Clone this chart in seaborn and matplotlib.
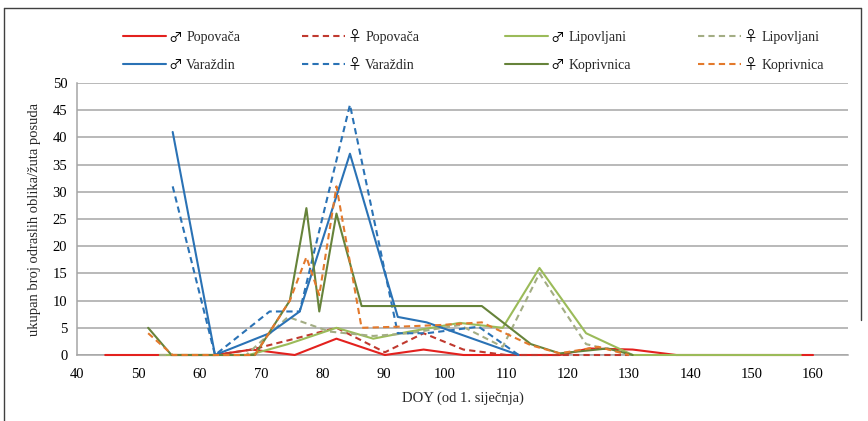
import matplotlib
matplotlib.use("Agg")
import matplotlib.pyplot as plt
from matplotlib.lines import Line2D
import seaborn as sns
import pandas as pd

# ---------------- data ----------------
pop_m_doy = [44.6, 53.5, 62.5, 68.5, 75.5, 82.3, 90.2, 96.5, 103, 110, 118.7, 123.5, 130.6, 137.7, 160]
pop_m_val = [0, 0, 0, 1, 0, 3, 0, 1, 0, 0, 0, 1.2, 1, 0, 0]

pop_f_doy = [62.5, 68.5, 75.5, 82.3, 90.2, 96.5, 103, 110, 118.7, 130]
pop_f_val = [0, 1, 3, 5, 0.5, 4, 1, 0, 0, 0]

lip_m_doy = [53.5, 62.5, 68, 74.4, 82.3, 88.3, 94.2, 102.4, 109.4, 115.4, 123, 130.6, 138, 158]
lip_m_val = [0, 0, 0, 2, 5, 3, 4.3, 5.9, 5, 16, 4, 0, 0, 0]

lip_f_doy = [53.5, 62.5, 67.6, 74.4, 81.2, 88.3, 94.2, 102.4, 109.4, 115.4, 123, 130.6]
lip_f_val = [0, 0, 0, 7, 4.3, 3.5, 4, 5.5, 1.5, 15, 2, 0]

var_m_doy = [55.6, 62.5, 71.4, 76.3, 84.5, 92.3, 97, 112]
var_m_val = [41, 0, 4, 8, 37, 7, 6, 0]

var_f_doy = [55.6, 62.5, 71.4, 76.3, 84.5, 92.3, 97, 105.5, 112]
var_f_val = [31, 0, 8, 8, 46, 4, 4, 5.2, 0]

kop_m_doy = [51.6, 55.4, 62.5, 69, 74.7, 77.4, 79.5, 82.3, 86.4, 106, 114, 118.7, 126.5, 130.6]
kop_m_val = [5, 0, 0, 0, 10, 27, 8, 26, 9, 9, 2, 0.3, 1.2, 0]

kop_f_doy = [51.6, 55.6, 62.5, 69, 74.7, 77.4, 79.5, 82.3, 86.4, 92.3, 99, 106, 114, 118.7, 125, 130]
kop_f_val = [4, 0, 0, 0, 10, 18, 11, 31, 5, 5.2, 5.5, 6, 1.8, 0.3, 1.5, 0]

MALE, FEMALE = "\u2642", "\u2640"
series = [
    (MALE, "Popova\u010da", pop_m_doy, pop_m_val, "#E3211E", "-"),
    (FEMALE, "Popova\u010da", pop_f_doy, pop_f_val, "#C0392F", "--"),
    (MALE, "Lipovljani", lip_m_doy, lip_m_val, "#9BBB59", "-"),
    (FEMALE, "Lipovljani", lip_f_doy, lip_f_val, "#A3AD84", "--"),
    (MALE, "Vara\u017edin", var_m_doy, var_m_val, "#2A72B5", "-"),
    (FEMALE, "Vara\u017edin", var_f_doy, var_f_val, "#2A72B5", "--"),
    (MALE, "Koprivnica", kop_m_doy, kop_m_val, "#66833A", "-"),
    (FEMALE, "Koprivnica", kop_f_doy, kop_f_val, "#E3792C", "--"),
]

# ---------------- style ----------------
sns.set_style("white")
serif = ["Liberation Serif", "DejaVu Serif", "DejaVu Sans"]
plt.rcParams["font.family"] = serif
plt.rcParams["font.size"] = 10

W, H = 868, 421
fig = plt.figure(figsize=(W / 100, H / 100), dpi=100)
ax = fig.add_axes([77 / W, (H - 355) / H, (848 - 77) / W, (355 - 83) / H])

LW = 1.5
DASH = (3, 2)
handles = []
for sym, name, xs, ys, col, ls in series:
    df = pd.DataFrame({"doy": xs, "n": ys})
    kw = dict(color=col, linewidth=LW, ax=ax, legend=False, estimator=None, sort=False)
    sns.lineplot(data=df, x="doy", y="n", **kw)
    line = ax.lines[-1]
    line.set_zorder(3)
    line.set_clip_on(False)
    if ls == "--":
        line.set_dashes(DASH)
        line.set_dash_capstyle("butt")
    h = Line2D([0], [0], color=col, linewidth=LW)
    if ls == "--":
        h.set_dashes(DASH)
    handles.append((h, sym, name))

ax.set_xlim(40, 165.7)
ax.set_ylim(0, 50)
ax.set_xticks(range(40, 161, 10))
ax.set_yticks(range(0, 51, 5))
ax.yaxis.grid(True, color="#A6A6A6", linewidth=1.1)
ax.xaxis.grid(False)
ax.set_axisbelow(True)
for s in ["top", "right"]:
    ax.spines[s].set_visible(False)
for s in ["left", "bottom"]:
    ax.spines[s].set_color("#A6A6A6")
    ax.spines[s].set_linewidth(1.1)
    ax.spines[s].set_zorder(1)
ax.tick_params(axis="both", which="major", length=4, width=1, color="#A6A6A6",
               labelsize=10.5, direction="out", labelcolor="#000000")
ax.tick_params(axis="x", pad=5)
ax.tick_params(axis="y", pad=3)
ax.set_xlabel("DOY (od 1. sije\u010dnja)", fontsize=10.5, labelpad=8)
ax.set_ylabel("ukupan broj odraslih oblika/\u017euta posuda", fontsize=10.5, labelpad=8)

# legend: 4 columns, 2 rows, placed per column; sex symbol drawn in the gap
col_x = [123, 302, 505, 698]
order = [(0, 4), (1, 5), (2, 6), (3, 7)]
legends = []
for cx, (a, b) in zip(col_x, order):
    hs = [handles[a][0], handles[b][0]]
    ls_ = [handles[a][2], handles[b][2]]
    leg = fig.legend(hs, ls_, loc="upper left",
                     bbox_to_anchor=(cx / W, 1 - 31 / H),
                     frameon=False, fontsize=10, handlelength=3.1,
                     handletextpad=1.45, labelspacing=1.05, borderpad=0,
                     borderaxespad=0)
    legends.append((leg, [handles[a][1], handles[b][1]]))

fig.canvas.draw()
r = fig.canvas.get_renderer()
for leg, syms in legends:
    for t, sym in zip(leg.get_texts(), syms):
        bb = t.get_window_extent(r)
        fig.text((bb.x0 - 3.5) / W, (bb.y0 + bb.y1) / 2 / H, sym, ha="right", va="center",
                 fontsize=10, family=["Noto Sans CJK JP", "DejaVu Sans"],
                 color="#000000")

# outer border
bc = "#404040"
fig.add_artist(Line2D([4 / W, 4 / W], [0, 1 - 8 / H], color=bc, linewidth=1.0))
fig.add_artist(Line2D([4 / W, 861 / W], [1 - 8 / H, 1 - 8 / H], color=bc, linewidth=1.0))
fig.add_artist(Line2D([861 / W, 861 / W], [1 - 8 / H, 1 - 320 / H], color=bc, linewidth=1.0))

fig.savefig("out.png", dpi=100)
